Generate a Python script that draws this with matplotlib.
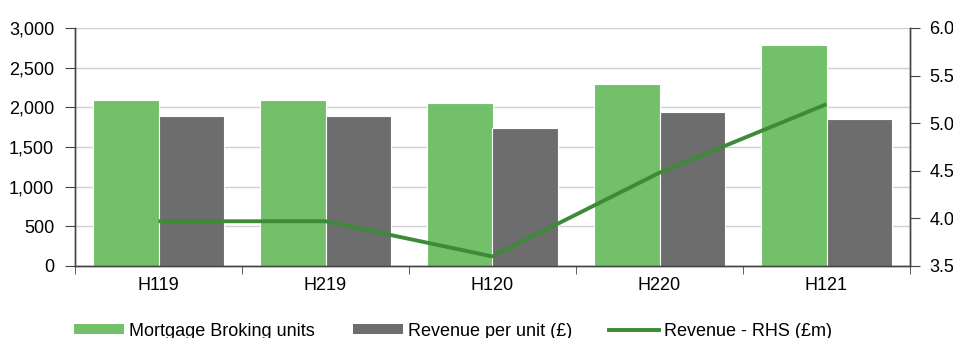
import numpy as np
import matplotlib.pyplot as plt
from matplotlib.lines import Line2D
from matplotlib.patches import Patch

plt.rcParams["font.family"] = ["Liberation Sans", "DejaVu Sans"]
FS = 13

periods = ["H119", "H219", "H120", "H220", "H121"]
broking_units = [2090, 2090, 2060, 2290, 2790]
revenue_per_unit = [1890, 1890, 1740, 1945, 1855]
revenue_m = [3.97, 3.97, 3.60, 4.48, 5.20]

GREEN = "#72c06a"
GREY = "#6d6d6d"
LINE = "#3d8a37"
AXIS = "#444444"


def main():
    fig = plt.figure(figsize=(9.54, 3.38), dpi=100)
    ax = fig.add_axes([75 / 954, 1 - 266 / 338, (910 - 75) / 954, (266 - 28) / 338])
    ax2 = ax.twinx()

    x = np.arange(len(periods))
    w = 0.395
    ax.bar(x - w / 2, broking_units, width=w, color=GREEN, edgecolor="white", linewidth=0.8, zorder=2)
    ax.bar(x + w / 2, revenue_per_unit, width=w, color=GREY, edgecolor="white", linewidth=0.8, zorder=2)
    ax2.plot(x, revenue_m, color=LINE, linewidth=2.8, solid_capstyle="butt")

    ax.set_xlim(-0.5, len(periods) - 0.5)
    ax.set_ylim(0, 3000)
    ax.set_yticks(range(0, 3001, 500))
    ax.set_yticklabels([f"{v:,}" for v in range(0, 3001, 500)])
    ax.yaxis.grid(True, color="#d0d0d0", linewidth=1)
    ax.set_axisbelow(True)

    ax.set_xticks(x)
    ax.set_xticklabels(periods)
    ax.set_xticks(np.arange(-0.5, len(periods), 1), minor=True)
    ax.tick_params(axis="x", which="major", length=0, pad=8, labelsize=FS)
    ax.tick_params(axis="x", which="minor", length=6, color=AXIS, direction="out")
    ax.tick_params(axis="y", length=7, color=AXIS, labelsize=FS, pad=8)

    ax2.set_ylim(3.5, 6.0)
    ax2.set_yticks(np.arange(3.5, 6.01, 0.5))
    ax2.set_yticklabels([f"{v:.1f}" for v in np.arange(3.5, 6.01, 0.5)])
    ax2.tick_params(axis="y", length=7, color=AXIS, labelsize=FS, pad=7)

    for a in (ax, ax2):
        a.spines["top"].set_visible(False)
        for s in ("left", "right", "bottom"):
            a.spines[s].set_color(AXIS)
            a.spines[s].set_linewidth(1)

    # three legend entries placed individually to match the reference spacing
    entries = [
        (Patch(facecolor=GREEN, edgecolor="none"), "Mortgage Broking units", 74),
        (Patch(facecolor=GREY, edgecolor="none"), "Revenue per unit (\u00a3)", 353),
        (Line2D([0], [0], color=LINE, linewidth=2.8), "Revenue - RHS (\u00a3m)", 609),
    ]
    for handle, label, xpos in entries:
        fig.legend([handle], [label], loc="center left", bbox_to_anchor=(xpos / 954, 1 - 331 / 338),
                   frameon=False, fontsize=FS, handlelength=50 / (FS * 100 / 72), handleheight=0.5,
                   handletextpad=0.3, borderaxespad=0, borderpad=0)

    fig.savefig("out.png", dpi=100)
    plt.close(fig)


if __name__ == "__main__":
    main()
